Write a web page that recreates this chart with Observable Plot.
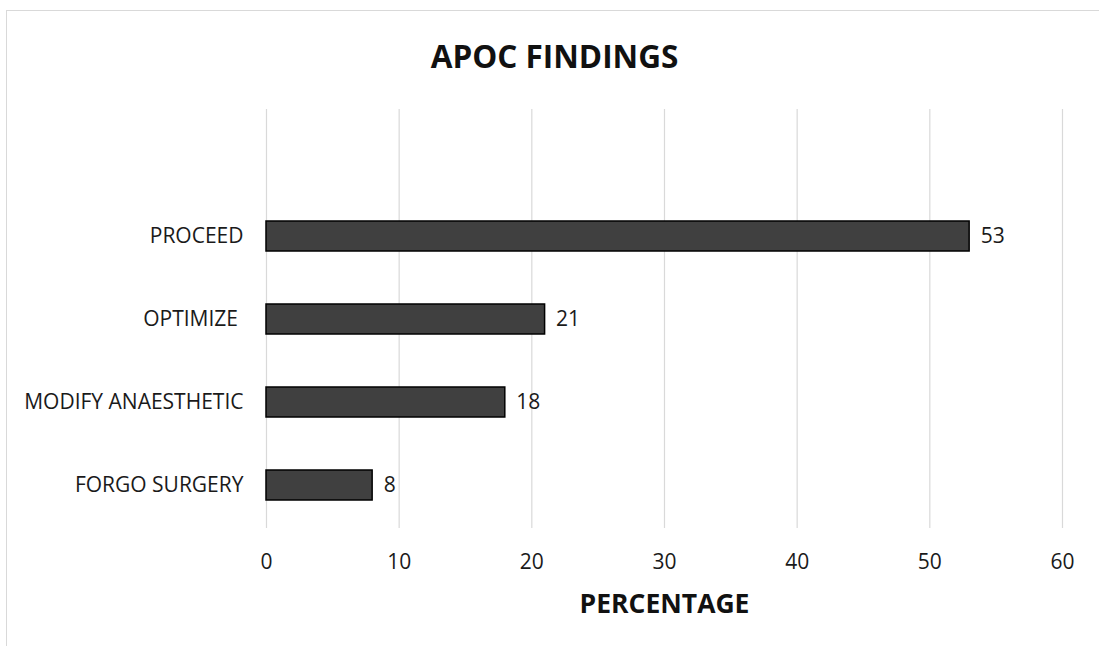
<!DOCTYPE html>
<html>
<head>
<meta charset="utf-8">
<script src="https://cdn.jsdelivr.net/npm/d3@7"></script>
<script src="https://cdn.jsdelivr.net/npm/@observablehq/plot@0.6"></script>
<style>
  html, body { margin: 0; padding: 0; background: #fff; }
  #wrap { position: relative; width: 1099px; height: 646px; overflow: hidden; font-family: "Open Sans", sans-serif; }
  #frame { position: absolute; left: 6px; top: 10px; width: 1200px; height: 700px; border-top: 1.5px solid #d9d9d9; border-left: 1.5px solid #d9d9d9; }
  #title { position: absolute; left: 0; width: 1109px; top: 40px; text-align: center; font-weight: 700; font-size: 31.5px; color: #111; line-height: 1; }
  #chart { position: absolute; left: 0; top: 0; }
</style>
</head>
<body>
<div id="wrap">
  <div id="frame"></div>
  <div id="chart"></div>
  <div id="title">APOC FINDINGS</div>
</div>
<script>
const categories = ["PROCEED", "OPTIMIZE ", "MODIFY ANAESTHETIC", "FORGO SURGERY"];
const values = [53, 21, 18, 8];
const xTicks = [0, 10, 20, 30, 40, 50, 60];
const xLabel = "PERCENTAGE";

const data = categories.map((c, i) => ({category: c, value: values[i]}));
const yDomain = [" ", ...categories];

const chart = Plot.plot({
  width: 1099,
  height: 646,
  marginLeft: 266,
  marginRight: 37,
  marginTop: 109,
  marginBottom: 118,
  style: {fontFamily: "'Open Sans', sans-serif", fontSize: "21px", color: "#1a1a1a", background: "transparent"},
  x: {domain: [0, 60], ticks: xTicks, tickSize: 0, tickPadding: 26, label: null},
  y: {domain: yDomain, paddingInner: 0.64, paddingOuter: 0.32, align: 0.5, tickSize: 0, tickPadding: 23, label: null},
  marks: [
    Plot.ruleX(xTicks, {stroke: "#d9d9d9", strokeWidth: 1.2, strokeOpacity: 1}),
    Plot.barX(data, {y: "category", x: "value", fill: "#404040", stroke: "#000", strokeWidth: 1.5}),
    Plot.text(data, {y: "category", x: "value", text: d => String(d.value), dx: 11, textAnchor: "start", fontSize: 21, fill: "#1a1a1a"}),
    Plot.text([xLabel], {frameAnchor: "bottom", dy: 84, text: d => d, fontSize: 26.5, fontWeight: 700, fill: "#111"})
  ]
});
document.getElementById("chart").appendChild(chart);
</script>
</body>
</html>
